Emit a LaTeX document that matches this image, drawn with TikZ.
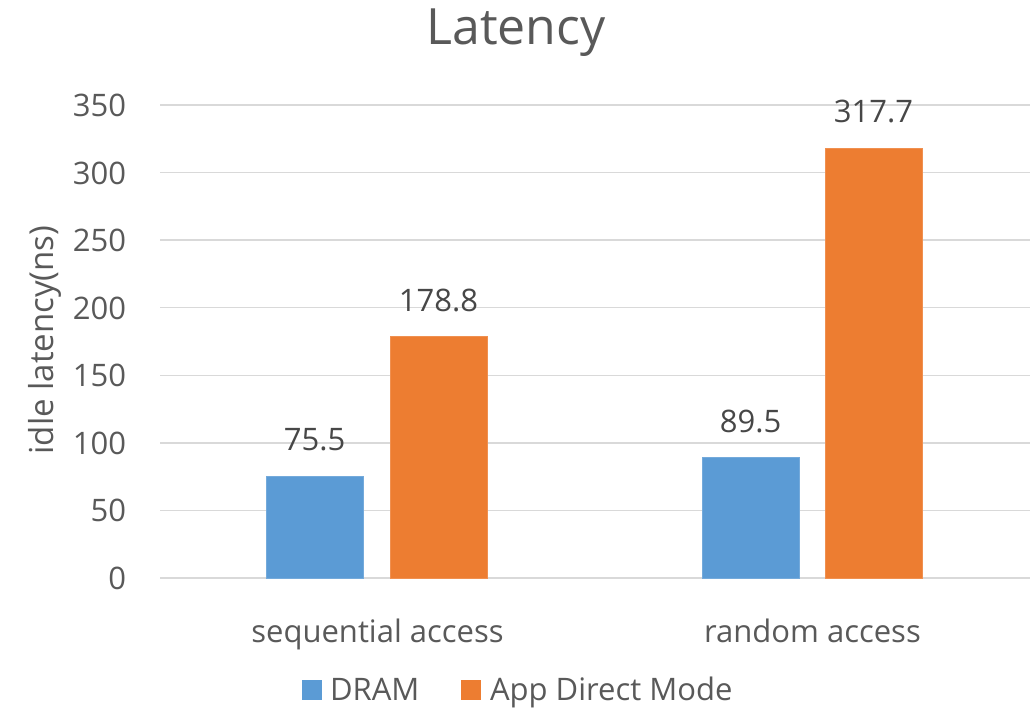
\documentclass[tikz,border=0pt]{standalone}
\usepackage{fontspec}
\setmainfont{Open Sans}
\definecolor{dramblue}{HTML}{5B9BD5}
\definecolor{admorange}{HTML}{ED7D31}
\definecolor{gridgray}{HTML}{D9D9D9}
\definecolor{labelgray}{HTML}{595959}
\begin{document}
\begin{tikzpicture}[x=1pt,y=-1pt,
  every node/.style={inner sep=0pt,outer sep=0pt,text=labelgray},
  tick/.style={anchor=base east,font=\fontsize{31}{31}\selectfont},
  datalabel/.style={anchor=base,font=\fontsize{31}{31}\selectfont,text=labelgray!80!black},
  catlabel/.style={anchor=base,font=\fontsize{31}{31}\selectfont},
  legtext/.style={anchor=base west,font=\fontsize{31}{31}\selectfont},
  gridline/.style={draw=gridgray,line width=1.4pt},
  barfill/.style={fill=#1,draw=#1!85!white,line width=0.8pt}]
\useasboundingbox (0,0) rectangle (1036,708);
\fill[white] (0,0) rectangle (1036,708);

% y scale: 0 at 578, 350 at 105
\def\ybase{578}
\def\yscale{1.3514}

% horizontal gridlines and tick labels
\foreach \v in {0,50,...,350}{
  \pgfmathsetmacro{\yy}{\ybase-\v*\yscale}
  \draw[gridline] (160,\yy) -- (1030,\yy);
  \node[tick] (tick\v) at (126,\yy+11.5) {\v};
}

% bars
\fill[barfill=dramblue]  (266,\ybase) rectangle (363,{\ybase-75.5*\yscale});
\fill[barfill=admorange] (390,\ybase) rectangle (487,{\ybase-178.8*\yscale});
\fill[barfill=dramblue]  (702,\ybase) rectangle (799,{\ybase-89.5*\yscale});
\fill[barfill=admorange] (825,\ybase) rectangle (922,{\ybase-317.7*\yscale});

% data labels
\node[datalabel] (lab1) at (314.5,{\ybase-75.5*\yscale-25}) {75.5};
\node[datalabel] (lab2) at (438.5,{\ybase-178.8*\yscale-25}) {178.8};
\node[datalabel] (lab3) at (750.5,{\ybase-89.5*\yscale-25}) {89.5};
\node[datalabel] (lab4) at (873.5,{\ybase-317.7*\yscale-26}) {317.7};

% category labels
\node[catlabel] (cat1) at (377.5,642) {sequential access};
\node[catlabel] (cat2) at (812.5,642) {random access};

% title and axis title
\node[anchor=base,font=\fontsize{50}{50}\selectfont] (title) at (516,45) {Latency};
\node[anchor=base,rotate=90,font=\fontsize{33}{33}\selectfont] (ytitle) at (53,340) {idle latency(ns)};

% legend
\fill[dramblue]  (302,680) rectangle (322,700);
\node[legtext] (leg1) at (330,700) {DRAM};
\fill[admorange] (461,680) rectangle (481,700);
\node[legtext] (leg2) at (490,700) {App Direct Mode};
\end{tikzpicture}
\end{document}
